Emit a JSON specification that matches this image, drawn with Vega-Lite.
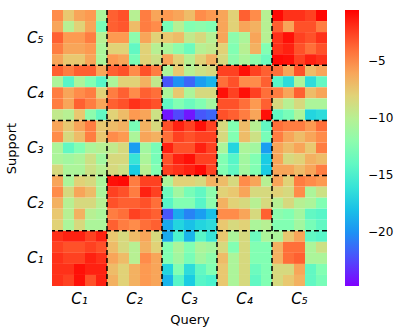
{
"$schema": "https://vega.github.io/schema/vega-lite/v6.json",
"width": 275, "height": 276,
"autosize": {"type": "none"},
"padding": {"left": 52, "top": 10, "right": 76, "bottom": 49},
"config": {"view": {"stroke": null}, "font": "DejaVu Sans"},
"layer": [
{"data": {"values": [
{"r":0,"c":0,"v":-5},{"r":0,"c":1,"v":-7.5},{"r":0,"c":2,"v":-6},{"r":0,"c":3,"v":-5.5},{"r":0,"c":4,"v":-10.5},{"r":0,"c":5,"v":-3.5},{"r":0,"c":6,"v":-3},{"r":0,"c":7,"v":-10},{"r":0,"c":8,"v":-4.5},{"r":0,"c":9,"v":-6},{"r":0,"c":10,"v":-5.5},{"r":0,"c":11,"v":-6},{"r":0,"c":12,"v":-7},{"r":0,"c":13,"v":-5},{"r":0,"c":14,"v":-5.5},{"r":0,"c":15,"v":-6},{"r":0,"c":16,"v":-8},{"r":0,"c":17,"v":-3.5},{"r":0,"c":18,"v":-5},{"r":0,"c":19,"v":-10},{"r":0,"c":20,"v":-0.8},{"r":0,"c":21,"v":-2},{"r":0,"c":22,"v":-2},{"r":0,"c":23,"v":-2.5},{"r":0,"c":24,"v":-0.7},
{"r":1,"c":0,"v":-6},{"r":1,"c":1,"v":-10},{"r":1,"c":2,"v":-8},{"r":1,"c":3,"v":-6},{"r":1,"c":4,"v":-13},{"r":1,"c":5,"v":-3.5},{"r":1,"c":6,"v":-3.2},{"r":1,"c":7,"v":-7},{"r":1,"c":8,"v":-4.5},{"r":1,"c":9,"v":-5},{"r":1,"c":10,"v":-13},{"r":1,"c":11,"v":-10},{"r":1,"c":12,"v":-12.5},{"r":1,"c":13,"v":-12},{"r":1,"c":14,"v":-12.5},{"r":1,"c":15,"v":-6},{"r":1,"c":16,"v":-8},{"r":1,"c":17,"v":-6},{"r":1,"c":18,"v":-6.5},{"r":1,"c":19,"v":-10},{"r":1,"c":20,"v":-3.5},{"r":1,"c":21,"v":-6},{"r":1,"c":22,"v":-3},{"r":1,"c":23,"v":-3},{"r":1,"c":24,"v":-4.5},
{"r":2,"c":0,"v":-3.5},{"r":2,"c":1,"v":-5.5},{"r":2,"c":2,"v":-5.5},{"r":2,"c":3,"v":-4.5},{"r":2,"c":4,"v":-10},{"r":2,"c":5,"v":-5.5},{"r":2,"c":6,"v":-5.5},{"r":2,"c":7,"v":-12},{"r":2,"c":8,"v":-6},{"r":2,"c":9,"v":-8},{"r":2,"c":10,"v":-7.5},{"r":2,"c":11,"v":-7},{"r":2,"c":12,"v":-9.5},{"r":2,"c":13,"v":-8.5},{"r":2,"c":14,"v":-10},{"r":2,"c":15,"v":-6},{"r":2,"c":16,"v":-12},{"r":2,"c":17,"v":-10.5},{"r":2,"c":18,"v":-6},{"r":2,"c":19,"v":-10},{"r":2,"c":20,"v":-2},{"r":2,"c":21,"v":-1},{"r":2,"c":22,"v":-2.5},{"r":2,"c":23,"v":-3},{"r":2,"c":24,"v":-2},
{"r":3,"c":0,"v":-4.5},{"r":3,"c":1,"v":-6},{"r":3,"c":2,"v":-6},{"r":3,"c":3,"v":-5.5},{"r":3,"c":4,"v":-10.5},{"r":3,"c":5,"v":-8},{"r":3,"c":6,"v":-8},{"r":3,"c":7,"v":-14},{"r":3,"c":8,"v":-8},{"r":3,"c":9,"v":-10},{"r":3,"c":10,"v":-10.5},{"r":3,"c":11,"v":-12},{"r":3,"c":12,"v":-13.5},{"r":3,"c":13,"v":-10},{"r":3,"c":14,"v":-9.5},{"r":3,"c":15,"v":-8},{"r":3,"c":16,"v":-12.5},{"r":3,"c":17,"v":-10},{"r":3,"c":18,"v":-6.5},{"r":3,"c":19,"v":-12.5},{"r":3,"c":20,"v":-2},{"r":3,"c":21,"v":-1.5},{"r":3,"c":22,"v":-3},{"r":3,"c":23,"v":-4},{"r":3,"c":24,"v":-3},
{"r":4,"c":0,"v":-6},{"r":4,"c":1,"v":-7.5},{"r":4,"c":2,"v":-7.5},{"r":4,"c":3,"v":-6},{"r":4,"c":4,"v":-10.5},{"r":4,"c":5,"v":-5.5},{"r":4,"c":6,"v":-6},{"r":4,"c":7,"v":-13},{"r":4,"c":8,"v":-8},{"r":4,"c":9,"v":-9},{"r":4,"c":10,"v":-6},{"r":4,"c":11,"v":-8},{"r":4,"c":12,"v":-10},{"r":4,"c":13,"v":-8},{"r":4,"c":14,"v":-6.5},{"r":4,"c":15,"v":-8.5},{"r":4,"c":16,"v":-12},{"r":4,"c":17,"v":-10.5},{"r":4,"c":18,"v":-12},{"r":4,"c":19,"v":-13.5},{"r":4,"c":20,"v":-0.8},{"r":4,"c":21,"v":-1},{"r":4,"c":22,"v":-2.5},{"r":4,"c":23,"v":-1.5},{"r":4,"c":24,"v":-2},
{"r":5,"c":0,"v":-3.5},{"r":5,"c":1,"v":-4.5},{"r":5,"c":2,"v":-3.5},{"r":5,"c":3,"v":-3.5},{"r":5,"c":4,"v":-6},{"r":5,"c":5,"v":-3.5},{"r":5,"c":6,"v":-3},{"r":5,"c":7,"v":-5},{"r":5,"c":8,"v":-3},{"r":5,"c":9,"v":-4.5},{"r":5,"c":10,"v":-10.5},{"r":5,"c":11,"v":-7.5},{"r":5,"c":12,"v":-10},{"r":5,"c":13,"v":-9},{"r":5,"c":14,"v":-8.5},{"r":5,"c":15,"v":-2.5},{"r":5,"c":16,"v":-2.5},{"r":5,"c":17,"v":-1},{"r":5,"c":18,"v":-2.5},{"r":5,"c":19,"v":-3.5},{"r":5,"c":20,"v":-4},{"r":5,"c":21,"v":-6},{"r":5,"c":22,"v":-3},{"r":5,"c":23,"v":-7},{"r":5,"c":24,"v":-6},
{"r":6,"c":0,"v":-10.5},{"r":6,"c":1,"v":-14.5},{"r":6,"c":2,"v":-10.5},{"r":6,"c":3,"v":-12.5},{"r":6,"c":4,"v":-14.5},{"r":6,"c":5,"v":-10.5},{"r":6,"c":6,"v":-8},{"r":6,"c":7,"v":-8},{"r":6,"c":8,"v":-6.5},{"r":6,"c":9,"v":-9.5},{"r":6,"c":10,"v":-22},{"r":6,"c":11,"v":-20},{"r":6,"c":12,"v":-21.5},{"r":6,"c":13,"v":-19.5},{"r":6,"c":14,"v":-18.5},{"r":6,"c":15,"v":-4},{"r":6,"c":16,"v":-3},{"r":6,"c":17,"v":-5},{"r":6,"c":18,"v":-5},{"r":6,"c":19,"v":-3.5},{"r":6,"c":20,"v":-14.5},{"r":6,"c":21,"v":-16.5},{"r":6,"c":22,"v":-10.5},{"r":6,"c":23,"v":-16.5},{"r":6,"c":24,"v":-14},
{"r":7,"c":0,"v":-4.5},{"r":7,"c":1,"v":-6},{"r":7,"c":2,"v":-5},{"r":7,"c":3,"v":-4.5},{"r":7,"c":4,"v":-8},{"r":7,"c":5,"v":-4.5},{"r":7,"c":6,"v":-3.5},{"r":7,"c":7,"v":-5},{"r":7,"c":8,"v":-3.5},{"r":7,"c":9,"v":-4},{"r":7,"c":10,"v":-10.5},{"r":7,"c":11,"v":-7.5},{"r":7,"c":12,"v":-10.5},{"r":7,"c":13,"v":-8.5},{"r":7,"c":14,"v":-8.5},{"r":7,"c":15,"v":-1},{"r":7,"c":16,"v":-2.5},{"r":7,"c":17,"v":-1},{"r":7,"c":18,"v":-2.5},{"r":7,"c":19,"v":-4},{"r":7,"c":20,"v":-4.5},{"r":7,"c":21,"v":-6},{"r":7,"c":22,"v":-3.5},{"r":7,"c":23,"v":-7},{"r":7,"c":24,"v":-6},
{"r":8,"c":0,"v":-4.5},{"r":8,"c":1,"v":-6},{"r":8,"c":2,"v":-3.5},{"r":8,"c":3,"v":-4.5},{"r":8,"c":4,"v":-6},{"r":8,"c":5,"v":-3.5},{"r":8,"c":6,"v":-3},{"r":8,"c":7,"v":-2},{"r":8,"c":8,"v":-2.5},{"r":8,"c":9,"v":-3},{"r":8,"c":10,"v":-14},{"r":8,"c":11,"v":-12.5},{"r":8,"c":12,"v":-13.5},{"r":8,"c":13,"v":-12.5},{"r":8,"c":14,"v":-11},{"r":8,"c":15,"v":-3},{"r":8,"c":16,"v":-3},{"r":8,"c":17,"v":-4},{"r":8,"c":18,"v":-5.5},{"r":8,"c":19,"v":-3.5},{"r":8,"c":20,"v":-8.5},{"r":8,"c":21,"v":-10},{"r":8,"c":22,"v":-8.5},{"r":8,"c":23,"v":-10.5},{"r":8,"c":24,"v":-10.5},
{"r":9,"c":0,"v":-9.5},{"r":9,"c":1,"v":-10},{"r":9,"c":2,"v":-7.5},{"r":9,"c":3,"v":-12},{"r":9,"c":4,"v":-14},{"r":9,"c":5,"v":-8},{"r":9,"c":6,"v":-7},{"r":9,"c":7,"v":-5.5},{"r":9,"c":8,"v":-6},{"r":9,"c":9,"v":-9},{"r":9,"c":10,"v":-24},{"r":9,"c":11,"v":-22.5},{"r":9,"c":12,"v":-24},{"r":9,"c":13,"v":-22},{"r":9,"c":14,"v":-21.5},{"r":9,"c":15,"v":-3},{"r":9,"c":16,"v":-3.5},{"r":9,"c":17,"v":-4.5},{"r":9,"c":18,"v":-6},{"r":9,"c":19,"v":-1},{"r":9,"c":20,"v":-14},{"r":9,"c":21,"v":-13},{"r":9,"c":22,"v":-10.5},{"r":9,"c":23,"v":-17},{"r":9,"c":24,"v":-16.5},
{"r":10,"c":0,"v":-6},{"r":10,"c":1,"v":-7.5},{"r":10,"c":2,"v":-6},{"r":10,"c":3,"v":-4.5},{"r":10,"c":4,"v":-7.5},{"r":10,"c":5,"v":-7},{"r":10,"c":6,"v":-6.5},{"r":10,"c":7,"v":-13},{"r":10,"c":8,"v":-6.5},{"r":10,"c":9,"v":-8.5},{"r":10,"c":10,"v":-3},{"r":10,"c":11,"v":-1.5},{"r":10,"c":12,"v":-2.5},{"r":10,"c":13,"v":-1},{"r":10,"c":14,"v":-2.5},{"r":10,"c":15,"v":-8.5},{"r":10,"c":16,"v":-12.5},{"r":10,"c":17,"v":-7},{"r":10,"c":18,"v":-10},{"r":10,"c":19,"v":-14},{"r":10,"c":20,"v":-4},{"r":10,"c":21,"v":-4.5},{"r":10,"c":22,"v":-4.5},{"r":10,"c":23,"v":-5.5},{"r":10,"c":24,"v":-4},
{"r":11,"c":0,"v":-5},{"r":11,"c":1,"v":-8.5},{"r":11,"c":2,"v":-7},{"r":11,"c":3,"v":-4.5},{"r":11,"c":4,"v":-7.5},{"r":11,"c":5,"v":-5},{"r":11,"c":6,"v":-5.5},{"r":11,"c":7,"v":-10.5},{"r":11,"c":8,"v":-6},{"r":11,"c":9,"v":-6.5},{"r":11,"c":10,"v":-4},{"r":11,"c":11,"v":-2.5},{"r":11,"c":12,"v":-3},{"r":11,"c":13,"v":-2.5},{"r":11,"c":14,"v":-2.5},{"r":11,"c":15,"v":-8.5},{"r":11,"c":16,"v":-12.5},{"r":11,"c":17,"v":-7},{"r":11,"c":18,"v":-9},{"r":11,"c":19,"v":-13},{"r":11,"c":20,"v":-4.5},{"r":11,"c":21,"v":-6},{"r":11,"c":22,"v":-7},{"r":11,"c":23,"v":-6},{"r":11,"c":24,"v":-5},
{"r":12,"c":0,"v":-10.5},{"r":12,"c":1,"v":-14},{"r":12,"c":2,"v":-12.5},{"r":12,"c":3,"v":-10.5},{"r":12,"c":4,"v":-10},{"r":12,"c":5,"v":-9.5},{"r":12,"c":6,"v":-8.5},{"r":12,"c":7,"v":-19.5},{"r":12,"c":8,"v":-11},{"r":12,"c":9,"v":-13},{"r":12,"c":10,"v":-1.5},{"r":12,"c":11,"v":-3},{"r":12,"c":12,"v":-3},{"r":12,"c":13,"v":-1.5},{"r":12,"c":14,"v":-2.5},{"r":12,"c":15,"v":-10.5},{"r":12,"c":16,"v":-17},{"r":12,"c":17,"v":-10.5},{"r":12,"c":18,"v":-11},{"r":12,"c":19,"v":-19.5},{"r":12,"c":20,"v":-6},{"r":12,"c":21,"v":-7},{"r":12,"c":22,"v":-6},{"r":12,"c":23,"v":-7.5},{"r":12,"c":24,"v":-4.5},
{"r":13,"c":0,"v":-10.5},{"r":13,"c":1,"v":-11},{"r":13,"c":2,"v":-10.5},{"r":13,"c":3,"v":-9},{"r":13,"c":4,"v":-11},{"r":13,"c":5,"v":-8.5},{"r":13,"c":6,"v":-8.5},{"r":13,"c":7,"v":-16},{"r":13,"c":8,"v":-10.5},{"r":13,"c":9,"v":-13},{"r":13,"c":10,"v":-3},{"r":13,"c":11,"v":-1.5},{"r":13,"c":12,"v":-1},{"r":13,"c":13,"v":-2.5},{"r":13,"c":14,"v":-2.5},{"r":13,"c":15,"v":-12.5},{"r":13,"c":16,"v":-14.5},{"r":13,"c":17,"v":-11},{"r":13,"c":18,"v":-12.5},{"r":13,"c":19,"v":-17.5},{"r":13,"c":20,"v":-6},{"r":13,"c":21,"v":-8.5},{"r":13,"c":22,"v":-8},{"r":13,"c":23,"v":-6.5},{"r":13,"c":24,"v":-7},
{"r":14,"c":0,"v":-8.5},{"r":14,"c":1,"v":-10.5},{"r":14,"c":2,"v":-10.5},{"r":14,"c":3,"v":-9},{"r":14,"c":4,"v":-10},{"r":14,"c":5,"v":-8.5},{"r":14,"c":6,"v":-9},{"r":14,"c":7,"v":-17.5},{"r":14,"c":8,"v":-10},{"r":14,"c":9,"v":-12.5},{"r":14,"c":10,"v":-2.5},{"r":14,"c":11,"v":-2},{"r":14,"c":12,"v":-1.5},{"r":14,"c":13,"v":-0.8},{"r":14,"c":14,"v":-2.5},{"r":14,"c":15,"v":-12.5},{"r":14,"c":16,"v":-14},{"r":14,"c":17,"v":-11},{"r":14,"c":18,"v":-12.5},{"r":14,"c":19,"v":-17.5},{"r":14,"c":20,"v":-6},{"r":14,"c":21,"v":-6},{"r":14,"c":22,"v":-7},{"r":14,"c":23,"v":-6},{"r":14,"c":24,"v":-4.5},
{"r":15,"c":0,"v":-6},{"r":15,"c":1,"v":-10.5},{"r":15,"c":2,"v":-8},{"r":15,"c":3,"v":-8.5},{"r":15,"c":4,"v":-10.5},{"r":15,"c":5,"v":-1},{"r":15,"c":6,"v":-0.8},{"r":15,"c":7,"v":-4.5},{"r":15,"c":8,"v":-2.5},{"r":15,"c":9,"v":-2.5},{"r":15,"c":10,"v":-10.5},{"r":15,"c":11,"v":-8},{"r":15,"c":12,"v":-8},{"r":15,"c":13,"v":-8.5},{"r":15,"c":14,"v":-6.5},{"r":15,"c":15,"v":-7},{"r":15,"c":16,"v":-8.5},{"r":15,"c":17,"v":-5},{"r":15,"c":18,"v":-6},{"r":15,"c":19,"v":-10},{"r":15,"c":20,"v":-6},{"r":15,"c":21,"v":-8},{"r":15,"c":22,"v":-4.5},{"r":15,"c":23,"v":-5},{"r":15,"c":24,"v":-5.5},
{"r":16,"c":0,"v":-5},{"r":16,"c":1,"v":-8.5},{"r":16,"c":2,"v":-6},{"r":16,"c":3,"v":-7},{"r":16,"c":4,"v":-10.5},{"r":16,"c":5,"v":-2.5},{"r":16,"c":6,"v":-3},{"r":16,"c":7,"v":-4.5},{"r":16,"c":8,"v":-1.5},{"r":16,"c":9,"v":-2.5},{"r":16,"c":10,"v":-13.5},{"r":16,"c":11,"v":-11},{"r":16,"c":12,"v":-13},{"r":16,"c":13,"v":-14},{"r":16,"c":14,"v":-12},{"r":16,"c":15,"v":-8},{"r":16,"c":16,"v":-7.5},{"r":16,"c":17,"v":-6},{"r":16,"c":18,"v":-8.5},{"r":16,"c":19,"v":-8.5},{"r":16,"c":20,"v":-8},{"r":16,"c":21,"v":-8.5},{"r":16,"c":22,"v":-5},{"r":16,"c":23,"v":-10.5},{"r":16,"c":24,"v":-9},
{"r":17,"c":0,"v":-6.5},{"r":17,"c":1,"v":-10},{"r":17,"c":2,"v":-8.5},{"r":17,"c":3,"v":-8.5},{"r":17,"c":4,"v":-10},{"r":17,"c":5,"v":-3},{"r":17,"c":6,"v":-3.5},{"r":17,"c":7,"v":-3.5},{"r":17,"c":8,"v":-3},{"r":17,"c":9,"v":-4},{"r":17,"c":10,"v":-14.5},{"r":17,"c":11,"v":-12.5},{"r":17,"c":12,"v":-12.5},{"r":17,"c":13,"v":-14.5},{"r":17,"c":14,"v":-12},{"r":17,"c":15,"v":-6.5},{"r":17,"c":16,"v":-8},{"r":17,"c":17,"v":-8.5},{"r":17,"c":18,"v":-10},{"r":17,"c":19,"v":-8.5},{"r":17,"c":20,"v":-10},{"r":17,"c":21,"v":-8.5},{"r":17,"c":22,"v":-10},{"r":17,"c":23,"v":-10.5},{"r":17,"c":24,"v":-12.5},
{"r":18,"c":0,"v":-7.5},{"r":18,"c":1,"v":-10},{"r":18,"c":2,"v":-6.5},{"r":18,"c":3,"v":-10},{"r":18,"c":4,"v":-10.5},{"r":18,"c":5,"v":-4.5},{"r":18,"c":6,"v":-4},{"r":18,"c":7,"v":-2.5},{"r":18,"c":8,"v":-3},{"r":18,"c":9,"v":-3.5},{"r":18,"c":10,"v":-22},{"r":18,"c":11,"v":-19},{"r":18,"c":12,"v":-20.5},{"r":18,"c":13,"v":-19.5},{"r":18,"c":14,"v":-18},{"r":18,"c":15,"v":-5},{"r":18,"c":16,"v":-5},{"r":18,"c":17,"v":-6},{"r":18,"c":18,"v":-8.5},{"r":18,"c":19,"v":-3.5},{"r":18,"c":20,"v":-12},{"r":18,"c":21,"v":-12.5},{"r":18,"c":22,"v":-11},{"r":18,"c":23,"v":-14},{"r":18,"c":24,"v":-14.5},
{"r":19,"c":0,"v":-8},{"r":19,"c":1,"v":-10.5},{"r":19,"c":2,"v":-8.5},{"r":19,"c":3,"v":-10.5},{"r":19,"c":4,"v":-10.5},{"r":19,"c":5,"v":-3.5},{"r":19,"c":6,"v":-4.5},{"r":19,"c":7,"v":-5},{"r":19,"c":8,"v":-4},{"r":19,"c":9,"v":-3.5},{"r":19,"c":10,"v":-19},{"r":19,"c":11,"v":-17},{"r":19,"c":12,"v":-18},{"r":19,"c":13,"v":-17},{"r":19,"c":14,"v":-16.5},{"r":19,"c":15,"v":-7.5},{"r":19,"c":16,"v":-8.5},{"r":19,"c":17,"v":-8},{"r":19,"c":18,"v":-10.5},{"r":19,"c":19,"v":-10},{"r":19,"c":20,"v":-12.5},{"r":19,"c":21,"v":-12.5},{"r":19,"c":22,"v":-11},{"r":19,"c":23,"v":-13},{"r":19,"c":24,"v":-14},
{"r":20,"c":0,"v":-2},{"r":20,"c":1,"v":-1.5},{"r":20,"c":2,"v":-1.5},{"r":20,"c":3,"v":-2.5},{"r":20,"c":4,"v":-1.5},{"r":20,"c":5,"v":-7.5},{"r":20,"c":6,"v":-8.5},{"r":20,"c":7,"v":-7},{"r":20,"c":8,"v":-6},{"r":20,"c":9,"v":-8.5},{"r":20,"c":10,"v":-19},{"r":20,"c":11,"v":-15},{"r":20,"c":12,"v":-18.5},{"r":20,"c":13,"v":-14.5},{"r":20,"c":14,"v":-16},{"r":20,"c":15,"v":-7.5},{"r":20,"c":16,"v":-10.5},{"r":20,"c":17,"v":-8.5},{"r":20,"c":18,"v":-13.5},{"r":20,"c":19,"v":-10.5},{"r":20,"c":20,"v":-10.5},{"r":20,"c":21,"v":-7.5},{"r":20,"c":22,"v":-6},{"r":20,"c":23,"v":-14},{"r":20,"c":24,"v":-14.5},
{"r":21,"c":0,"v":-2.5},{"r":21,"c":1,"v":-3},{"r":21,"c":2,"v":-3},{"r":21,"c":3,"v":-2.5},{"r":21,"c":4,"v":-3},{"r":21,"c":5,"v":-7},{"r":21,"c":6,"v":-8.5},{"r":21,"c":7,"v":-10},{"r":21,"c":8,"v":-6.5},{"r":21,"c":9,"v":-8},{"r":21,"c":10,"v":-12.5},{"r":21,"c":11,"v":-10.5},{"r":21,"c":12,"v":-12.5},{"r":21,"c":13,"v":-10.5},{"r":21,"c":14,"v":-11},{"r":21,"c":15,"v":-8.5},{"r":21,"c":16,"v":-12.5},{"r":21,"c":17,"v":-8.5},{"r":21,"c":18,"v":-12.5},{"r":21,"c":19,"v":-12.5},{"r":21,"c":20,"v":-6.5},{"r":21,"c":21,"v":-4},{"r":21,"c":22,"v":-4},{"r":21,"c":23,"v":-10.5},{"r":21,"c":24,"v":-9},
{"r":22,"c":0,"v":-2},{"r":22,"c":1,"v":-2.5},{"r":22,"c":2,"v":-2.5},{"r":22,"c":3,"v":-1.5},{"r":22,"c":4,"v":-2},{"r":22,"c":5,"v":-6},{"r":22,"c":6,"v":-7},{"r":22,"c":7,"v":-10},{"r":22,"c":8,"v":-5},{"r":22,"c":9,"v":-6},{"r":22,"c":10,"v":-12.5},{"r":22,"c":11,"v":-11},{"r":22,"c":12,"v":-13},{"r":22,"c":13,"v":-11},{"r":22,"c":14,"v":-12},{"r":22,"c":15,"v":-7},{"r":22,"c":16,"v":-10.5},{"r":22,"c":17,"v":-8.5},{"r":22,"c":18,"v":-12.5},{"r":22,"c":19,"v":-12.5},{"r":22,"c":20,"v":-6.5},{"r":22,"c":21,"v":-4},{"r":22,"c":22,"v":-3.5},{"r":22,"c":23,"v":-10.5},{"r":22,"c":24,"v":-10.5},
{"r":23,"c":0,"v":-2},{"r":23,"c":1,"v":-2},{"r":23,"c":2,"v":-1},{"r":23,"c":3,"v":-1.5},{"r":23,"c":4,"v":-1.5},{"r":23,"c":5,"v":-7},{"r":23,"c":6,"v":-8},{"r":23,"c":7,"v":-6.5},{"r":23,"c":8,"v":-5.5},{"r":23,"c":9,"v":-6},{"r":23,"c":10,"v":-17},{"r":23,"c":11,"v":-12.5},{"r":23,"c":12,"v":-16.5},{"r":23,"c":13,"v":-14},{"r":23,"c":14,"v":-12.5},{"r":23,"c":15,"v":-7.5},{"r":23,"c":16,"v":-10.5},{"r":23,"c":17,"v":-8.5},{"r":23,"c":18,"v":-13.5},{"r":23,"c":19,"v":-12.5},{"r":23,"c":20,"v":-8.5},{"r":23,"c":21,"v":-8.5},{"r":23,"c":22,"v":-6},{"r":23,"c":23,"v":-14},{"r":23,"c":24,"v":-12.5},
{"r":24,"c":0,"v":-2},{"r":24,"c":1,"v":-2.5},{"r":24,"c":2,"v":-1},{"r":24,"c":3,"v":-3},{"r":24,"c":4,"v":-1.5},{"r":24,"c":5,"v":-6.5},{"r":24,"c":6,"v":-8},{"r":24,"c":7,"v":-6.5},{"r":24,"c":8,"v":-5.5},{"r":24,"c":9,"v":-6},{"r":24,"c":10,"v":-18.5},{"r":24,"c":11,"v":-14.5},{"r":24,"c":12,"v":-17.5},{"r":24,"c":13,"v":-14.5},{"r":24,"c":14,"v":-15},{"r":24,"c":15,"v":-7.5},{"r":24,"c":16,"v":-10.5},{"r":24,"c":17,"v":-8.5},{"r":24,"c":18,"v":-14},{"r":24,"c":19,"v":-12.5},{"r":24,"c":20,"v":-8.5},{"r":24,"c":21,"v":-7.5},{"r":24,"c":22,"v":-6.5},{"r":24,"c":23,"v":-14},{"r":24,"c":24,"v":-13}
]},
"mark": {"type": "rect"},
"encoding": {
"x": {"field": "c", "type": "ordinal", "scale": {"domain": [0,1,2,3,4,5,6,7,8,9,10,11,12,13,14,15,16,17,18,19,20,21,22,23,24], "paddingInner": 0, "paddingOuter": 0},
 "axis": {"values": [2,7,12,17,22], "labelExpr": "'C' + ['₁','₂','₃','₄','₅'][floor(datum.value/5)]", "labelAngle": 0, "ticks": false, "domain": false, "labelFontSize": 15, "labelFontStyle": "italic", "labelColor": "black", "labelPadding": 5, "title": "Query", "titleFontSize": 13, "titleFontWeight": "normal", "titleColor": "black", "titlePadding": 7}},
"y": {"field": "r", "type": "ordinal", "scale": {"domain": [0,1,2,3,4,5,6,7,8,9,10,11,12,13,14,15,16,17,18,19,20,21,22,23,24], "paddingInner": 0, "paddingOuter": 0},
 "axis": {"values": [2,7,12,17,22], "labelExpr": "'C' + ['₅','₄','₃','₂','₁'][floor(datum.value/5)]", "labelAngle": 0, "ticks": false, "domain": false, "labelFontSize": 15, "labelFontStyle": "italic", "labelColor": "black", "labelPadding": 9, "title": "Support", "titleFontSize": 13, "titleFontWeight": "normal", "titleColor": "black", "titlePadding": 8}},
"color": {"field": "v", "type": "quantitative",
 "scale": {"domain": [-24.7, -0.5], "range": ["#8000ff","#4d4ffc","#1a96f3","#1acee3","#4df3ce","#80ffb4","#b3f396","#e6ce74","#ff964f","#ff4f28","#ff0000"], "interpolate": "rgb"},
 "legend": {"values": [-5,-10,-15,-20], "title": null, "orient": "right", "direction": "vertical", "gradientLength": 276, "gradientThickness": 14, "gradientStrokeWidth": 0, "offset": 18, "labelFontSize": 12, "labelOffset": 9, "labelColor": "black"}}
}},
{"data": {"values": [{"b":5},{"b":10},{"b":15},{"b":20}]},
 "mark": {"type": "rule", "color": "black", "strokeDash": [5, 3], "strokeWidth": 1.5},
 "encoding": {"x": {"field": "b", "type": "ordinal", "bandPosition": 0}}},
{"data": {"values": [{"b":5},{"b":10},{"b":15},{"b":20}]},
 "mark": {"type": "rule", "color": "black", "strokeDash": [5, 3], "strokeWidth": 1.5},
 "encoding": {"y": {"field": "b", "type": "ordinal", "bandPosition": 0}}}
]
}
